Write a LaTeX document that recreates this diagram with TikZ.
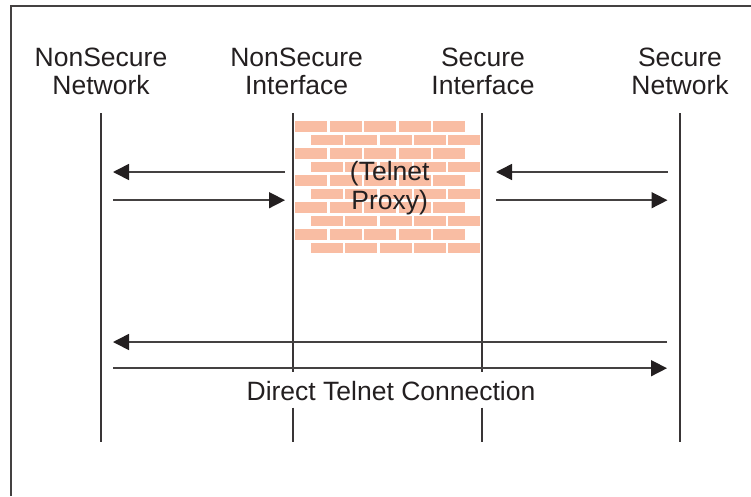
\documentclass[tikz,border=0pt]{standalone}
\usepackage{fontspec}
\setmainfont{Liberation Sans}
\usetikzlibrary{arrows.meta}
\definecolor{ink}{HTML}{231F20}
\definecolor{brick}{HTML}{F9BDA3}
\tikzset{
  x=1pt,y=-1pt,
  frameline/.style={draw=ink!85,line width=1.8pt},
  lifeline/.style={draw=ink!90,line width=1.3pt},
  flow/.style={draw=ink!85,line width=1.6pt,-{Triangle[length=16pt,width=16pt,color=ink]}},
  label/.style={text=ink,align=center,inner sep=0pt,font=\fontsize{26.5}{28.6}\selectfont},
  brickbox/.style={fill=brick,draw=none}
}
\begin{document}
\begin{tikzpicture}
\useasboundingbox (0,0) rectangle (751,496);
% frame
\coordinate (fa) at (10.8,496);
\coordinate (fb) at (10.8,5.8);
\coordinate (fc) at (751,5.8);
\draw[frameline] (fa) -- (fb) -- (fc);
% bricks
\foreach \y in {121,148,175,202,229}{
  \foreach \x/\w in {295/32,330/32,364/32,399/32,433/32}{
    \fill[brickbox] (\x,\y) rectangle ++(\w,10.7);
  }
  \foreach \x/\w in {311/32,345/32,380/32,414/32,448/32}{
    \fill[brickbox] (\x,\y+13.5) rectangle ++(\w,10.7);
  }
}
% lifelines
\coordinate (a1) at (101,113); \coordinate (a2) at (101,441.5);
\coordinate (b1) at (293,113); \coordinate (b2) at (293,372); \coordinate (b3) at (293,407.5); \coordinate (b4) at (293,441.5);
\coordinate (c1) at (482,113); \coordinate (c2) at (482,372); \coordinate (c3) at (482,407.5); \coordinate (c4) at (482,441.5);
\coordinate (d1) at (680,113); \coordinate (d2) at (680,441.5);
\draw[lifeline] (a1) -- (a2);
\draw[lifeline] (b1) -- (b2);
\draw[lifeline] (b3) -- (b4);
\draw[lifeline] (c1) -- (c2);
\draw[lifeline] (c3) -- (c4);
\draw[lifeline] (d1) -- (d2);
% arrows
\coordinate (p1) at (285,172); \coordinate (p2) at (113,172);
\coordinate (p3) at (113,200.2); \coordinate (p4) at (285,200.2);
\coordinate (q1) at (667.5,172); \coordinate (q2) at (496,172);
\coordinate (q3) at (496,200.2); \coordinate (q4) at (667.5,200.2);
\coordinate (r1) at (667,342); \coordinate (r2) at (113,342);
\coordinate (r3) at (113,368.2); \coordinate (r4) at (667,368.2);
\draw[flow] (p1) -- (p2);
\draw[flow] (p3) -- (p4);
\draw[flow] (q1) -- (q2);
\draw[flow] (q3) -- (q4);
\draw[flow] (r1) -- (r2);
\draw[flow] (r3) -- (r4);
% labels
\node[label] (n1) at (101,71.5) {NonSecure\\Network};
\node[label] (n2) at (296.6,71.5) {NonSecure\\Interface};
\node[label] (n3) at (483,71.5) {Secure\\Interface};
\node[label] (n4) at (680,71.5) {Secure\\Network};
\node[label] (n5) at (389.7,188) {(Telnet\\Proxy)};
\node[label] (n6) at (391,391) {Direct Telnet Connection};
\end{tikzpicture}
\end{document}
